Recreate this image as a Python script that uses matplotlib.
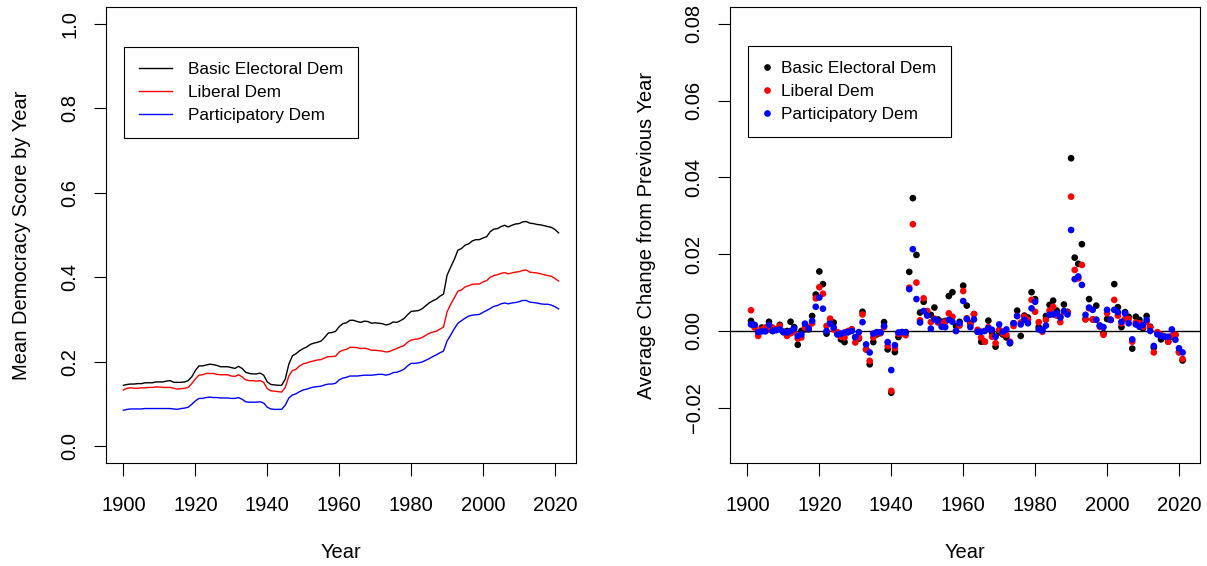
import numpy as np
import matplotlib
matplotlib.use("Agg")
import matplotlib.pyplot as plt
from matplotlib.lines import Line2D
from matplotlib.legend_handler import HandlerLine2D

plt.rcParams['font.family'] = ['Liberation Sans', 'DejaVu Sans']

# ---------------- data ----------------
years = np.arange(1900, 2022)

basic_level = [
    0.144, 0.146, 0.147, 0.147, 0.148, 0.148, 0.150, 0.150, 0.150, 0.152,
    0.152, 0.152, 0.154, 0.155, 0.151, 0.151, 0.151, 0.152, 0.155, 0.164,
    0.179, 0.190, 0.190, 0.192, 0.194, 0.193, 0.191, 0.188, 0.188, 0.188,
    0.186, 0.184, 0.189, 0.184, 0.175, 0.172, 0.171, 0.171, 0.173, 0.168,
    0.152, 0.146, 0.145, 0.144, 0.144, 0.159, 0.194, 0.214, 0.219, 0.226,
    0.231, 0.235, 0.241, 0.244, 0.246, 0.249, 0.258, 0.268, 0.269, 0.272,
    0.283, 0.290, 0.292, 0.298, 0.298, 0.295, 0.293, 0.296, 0.295, 0.291,
    0.292, 0.291, 0.290, 0.287, 0.289, 0.294, 0.293, 0.297, 0.302, 0.311,
    0.319, 0.320, 0.321, 0.325, 0.332, 0.339, 0.344, 0.348, 0.355, 0.360,
    0.405, 0.424, 0.442, 0.464, 0.468, 0.476, 0.479, 0.486, 0.489, 0.489,
    0.493, 0.496, 0.508, 0.514, 0.515, 0.520, 0.523, 0.519, 0.523, 0.526,
    0.527, 0.531, 0.532, 0.528, 0.527, 0.525, 0.524, 0.522, 0.520, 0.518,
    0.513, 0.505]

liberal_level = [
    0.133, 0.137, 0.138, 0.137, 0.137, 0.138, 0.138, 0.139, 0.139, 0.140,
    0.140, 0.139, 0.139, 0.139, 0.137, 0.135, 0.136, 0.137, 0.139, 0.148,
    0.159, 0.168, 0.169, 0.172, 0.172, 0.172, 0.170, 0.169, 0.169, 0.169,
    0.166, 0.165, 0.169, 0.164, 0.157, 0.155, 0.155, 0.154, 0.155, 0.151,
    0.136, 0.131, 0.130, 0.129, 0.128, 0.139, 0.166, 0.179, 0.182, 0.190,
    0.195, 0.197, 0.200, 0.202, 0.204, 0.205, 0.209, 0.212, 0.212, 0.213,
    0.223, 0.227, 0.229, 0.234, 0.234, 0.233, 0.231, 0.232, 0.230, 0.227,
    0.227, 0.226, 0.225, 0.223, 0.224, 0.228, 0.231, 0.235, 0.238, 0.246,
    0.251, 0.253, 0.254, 0.257, 0.262, 0.267, 0.270, 0.272, 0.277, 0.282,
    0.318, 0.336, 0.351, 0.367, 0.370, 0.377, 0.380, 0.383, 0.384, 0.384,
    0.389, 0.392, 0.400, 0.404, 0.406, 0.409, 0.411, 0.408, 0.410, 0.412,
    0.413, 0.416, 0.417, 0.412, 0.411, 0.410, 0.408, 0.406, 0.404, 0.402,
    0.397, 0.391]

particip_level = [
    0.085, 0.087, 0.088, 0.088, 0.088, 0.088, 0.089, 0.089, 0.089, 0.089,
    0.089, 0.089, 0.089, 0.089, 0.088, 0.087, 0.089, 0.090, 0.092, 0.099,
    0.107, 0.113, 0.113, 0.115, 0.116, 0.115, 0.115, 0.114, 0.114, 0.114,
    0.113, 0.113, 0.115, 0.111, 0.105, 0.104, 0.104, 0.104, 0.105, 0.102,
    0.092, 0.088, 0.087, 0.087, 0.087, 0.097, 0.114, 0.121, 0.124, 0.129,
    0.133, 0.135, 0.138, 0.140, 0.141, 0.142, 0.145, 0.147, 0.147, 0.149,
    0.157, 0.161, 0.163, 0.166, 0.166, 0.166, 0.167, 0.168, 0.168, 0.168,
    0.169, 0.170, 0.170, 0.168, 0.170, 0.174, 0.175, 0.178, 0.182, 0.190,
    0.196, 0.196, 0.197, 0.199, 0.203, 0.207, 0.212, 0.216, 0.221, 0.225,
    0.249, 0.263, 0.278, 0.291, 0.297, 0.303, 0.308, 0.310, 0.311, 0.312,
    0.317, 0.321, 0.326, 0.331, 0.333, 0.337, 0.339, 0.337, 0.339, 0.340,
    0.342, 0.345, 0.345, 0.341, 0.340, 0.339, 0.337, 0.336, 0.336, 0.334,
    0.330, 0.325]

chg_years = np.arange(1901, 2022)

basic_change = [
    0.0026, 0.0013, -0.0003, 0.0009, 0.0004, 0.0024, 0.0000, 0.0004, 0.0016, -0.0002,
    0.0000, 0.0024, 0.0010, -0.0036, 0.0000, 0.0004, 0.0004, 0.0039, 0.0095, 0.0155,
    0.0122, -0.0007, 0.0022, 0.0022, -0.0006, -0.0022, -0.0029, -0.0003, 0.0004, -0.0017,
    -0.0020, 0.0050, -0.0048, -0.0087, -0.0029, -0.0009, -0.0004, 0.0023, -0.0048, -0.0161,
    -0.0055, -0.0016, -0.0003, -0.0003, 0.0154, 0.0346, 0.0198, 0.0048, 0.0076, 0.0046,
    0.0042, 0.0061, 0.0030, 0.0024, 0.0026, 0.0091, 0.0101, 0.0013, 0.0024, 0.0118,
    0.0066, 0.0020, 0.0044, -0.0002, -0.0028, -0.0028, 0.0027, -0.0004, -0.0041, -0.0004,
    -0.0009, -0.0017, -0.0032, 0.0020, 0.0053, -0.0013, 0.0040, 0.0035, 0.0101, 0.0083,
    0.0010, 0.0003, 0.0039, 0.0068, 0.0079, 0.0053, 0.0037, 0.0069, 0.0050, 0.0450,
    0.0191, 0.0175, 0.0226, 0.0031, 0.0083, 0.0030, 0.0066, 0.0014, -0.0006, 0.0031,
    0.0029, 0.0122, 0.0062, 0.0010, 0.0049, 0.0037, -0.0046, 0.0037, 0.0029, 0.0007,
    0.0039, 0.0011, -0.0043, -0.0006, -0.0022, -0.0015, -0.0028, -0.0015, -0.0010, -0.0054,
    -0.0077]

liberal_change = [
    0.0054, 0.0009, -0.0013, 0.0004, 0.0009, 0.0004, 0.0009, 0.0004, 0.0013, -0.0003,
    -0.0013, -0.0006, -0.0003, -0.0020, -0.0017, 0.0009, 0.0009, 0.0020, 0.0085, 0.0114,
    0.0097, 0.0013, 0.0032, 0.0004, -0.0003, -0.0015, -0.0017, 0.0000, 0.0004, -0.0030,
    -0.0017, 0.0043, -0.0048, -0.0078, -0.0017, -0.0006, -0.0006, 0.0010, -0.0039, -0.0156,
    -0.0045, -0.0007, -0.0006, -0.0011, 0.0113, 0.0278, 0.0126, 0.0028, 0.0085, 0.0052,
    0.0023, 0.0032, 0.0022, 0.0020, 0.0024, 0.0046, 0.0037, 0.0000, 0.0014, 0.0104,
    0.0033, 0.0016, 0.0044, 0.0003, -0.0017, -0.0028, 0.0010, -0.0015, -0.0032, 0.0003,
    -0.0006, -0.0010, -0.0028, 0.0013, 0.0039, 0.0022, 0.0037, 0.0029, 0.0081, 0.0050,
    0.0023, -0.0002, 0.0029, 0.0053, 0.0063, 0.0040, 0.0023, 0.0050, 0.0048, 0.0350,
    0.0159, 0.0137, 0.0172, 0.0030, 0.0059, 0.0030, 0.0029, 0.0011, -0.0010, 0.0046,
    0.0029, 0.0081, 0.0040, 0.0020, 0.0031, 0.0031, -0.0028, 0.0022, 0.0020, 0.0011,
    0.0024, 0.0009, -0.0056, -0.0003, -0.0010, -0.0015, -0.0028, -0.0013, -0.0010, -0.0056,
    -0.0073]

particip_change = [
    0.0017, 0.0016, -0.0003, -0.0001, -0.0001, 0.0016, 0.0000, 0.0002, 0.0004, -0.0003,
    -0.0004, 0.0000, 0.0006, -0.0013, -0.0009, 0.0019, 0.0006, 0.0026, 0.0063, 0.0087,
    0.0058, 0.0000, 0.0019, 0.0009, -0.0009, -0.0007, -0.0004, -0.0003, 0.0000, -0.0016,
    -0.0003, 0.0023, -0.0035, -0.0056, -0.0007, -0.0003, -0.0004, 0.0013, -0.0029, -0.0102,
    -0.0037, -0.0004, -0.0003, -0.0004, 0.0109, 0.0213, 0.0083, 0.0022, 0.0052, 0.0040,
    0.0006, 0.0030, 0.0026, 0.0011, 0.0010, 0.0029, 0.0024, 0.0000, 0.0020, 0.0078,
    0.0031, 0.0010, 0.0030, -0.0002, -0.0002, 0.0000, 0.0007, 0.0003, -0.0015, 0.0017,
    -0.0002, 0.0004, -0.0030, 0.0020, 0.0039, 0.0017, 0.0029, 0.0020, 0.0059, 0.0076,
    0.0004, 0.0001, 0.0014, 0.0042, 0.0043, 0.0046, 0.0035, 0.0052, 0.0043, 0.0263,
    0.0135, 0.0142, 0.0120, 0.0042, 0.0061, 0.0055, 0.0029, 0.0013, 0.0010, 0.0055,
    0.0029, 0.0055, 0.0049, 0.0024, 0.0046, 0.0020, -0.0022, 0.0017, 0.0011, 0.0016,
    0.0029, 0.0000, -0.0039, -0.0009, -0.0013, -0.0015, -0.0015, 0.0004, -0.0023, -0.0045,
    -0.0056]

series_names = ["Basic Electoral Dem", "Liberal Dem", "Participatory Dem"]
series_colors = ["black", "red", "blue"]

x_ticks = [1900, 1920, 1940, 1960, 1980, 2000, 2020]
left_yticks = [0.0, 0.2, 0.4, 0.6, 0.8, 1.0]
left_ytick_labels = ["0.0", "0.2", "0.4", "0.6", "0.8", "1.0"]
right_yticks = [-0.02, 0.0, 0.02, 0.04, 0.06, 0.08]
right_ytick_labels = ["\u22120.02", "0.00", "0.02", "0.04", "0.06", "0.08"]

# ---------------- figure ----------------
W, H = 1207, 566
fig = plt.figure(figsize=(W / 100, H / 100), dpi=100)
fig.patch.set_facecolor("white")

ax1 = fig.add_axes([106 / W, 103 / H, 470 / W, 456 / H])
ax2 = fig.add_axes([730 / W, 103 / H, 470 / W, 456 / H])

FS = 14.5
LEG_FS = 12.4


def style_axes(ax):
    for s in ax.spines.values():
        s.set_linewidth(0.8)
        s.set_color("black")
    ax.tick_params(axis="both", direction="out", length=9, width=0.8,
                   labelsize=FS, top=False, right=False)
    ax.tick_params(axis="x", pad=14.5)
    ax.tick_params(axis="y", pad=10)
    for lab in ax.get_yticklabels():
        lab.set_rotation(90)
        lab.set_va("center")


# ----- left panel -----
levels = [basic_level, liberal_level, particip_level]
for vals, c in zip(levels, series_colors):
    ax1.plot(years, vals, color=c, lw=1.0)
ax1.set_xlim(1895.16, 2025.84)
ax1.set_ylim(-0.04, 1.04)
ax1.set_xticks(x_ticks)
ax1.set_yticks(left_yticks)
ax1.set_yticklabels(left_ytick_labels)
style_axes(ax1)
ax1.set_xlabel("Year", fontsize=FS, labelpad=20.5)
ax1.set_ylabel("Mean Democracy Score by Year", fontsize=FS, labelpad=21)

h1 = [Line2D([], [], color=c, lw=1.0) for c in series_colors]
leg1 = ax1.legend(h1, series_names, loc="upper left",
                  bbox_to_anchor=(18 / 470, (463 - 47) / 456),
                  borderaxespad=0, fancybox=False, edgecolor="black",
                  framealpha=1, fontsize=LEG_FS, handlelength=1.9,
                  handletextpad=0.95, borderpad=0.87, labelspacing=0.47)
leg1.get_frame().set_linewidth(0.8)

# ----- right panel -----
ax2.axhline(0, color="black", lw=1.0, zorder=1)
changes = [basic_change, liberal_change, particip_change]
for vals, c in zip(changes, series_colors):
    ax2.scatter(chg_years, vals, s=23, color=c, edgecolors="none", zorder=2)
ax2.set_xlim(1895.16, 2025.84)
ax2.set_ylim(-0.0344, 0.0844)
ax2.set_xticks(x_ticks)
ax2.set_yticks(right_yticks)
ax2.set_yticklabels(right_ytick_labels)
style_axes(ax2)
ax2.set_xlabel("Year", fontsize=FS, labelpad=20.5)
ax2.set_ylabel("Average Change from Previous Year", fontsize=FS, labelpad=20.5)

h2 = [Line2D([], [], color=c, marker="o", linestyle="none", markersize=4.8,
             markeredgewidth=0) for c in series_colors]
leg2 = ax2.legend(h2, series_names, loc="upper left",
                  bbox_to_anchor=(18 / 470, (463 - 45.5) / 456),
                  borderaxespad=0, fancybox=False, edgecolor="black",
                  framealpha=1, fontsize=LEG_FS, handlelength=0.3,
                  handletextpad=0.73, borderpad=0.87, labelspacing=0.47,
                  handler_map={h: HandlerLine2D(xpad=0.15) for h in h2})
leg2.get_frame().set_linewidth(0.8)

fig.savefig("out.png", dpi=100, facecolor="white")
